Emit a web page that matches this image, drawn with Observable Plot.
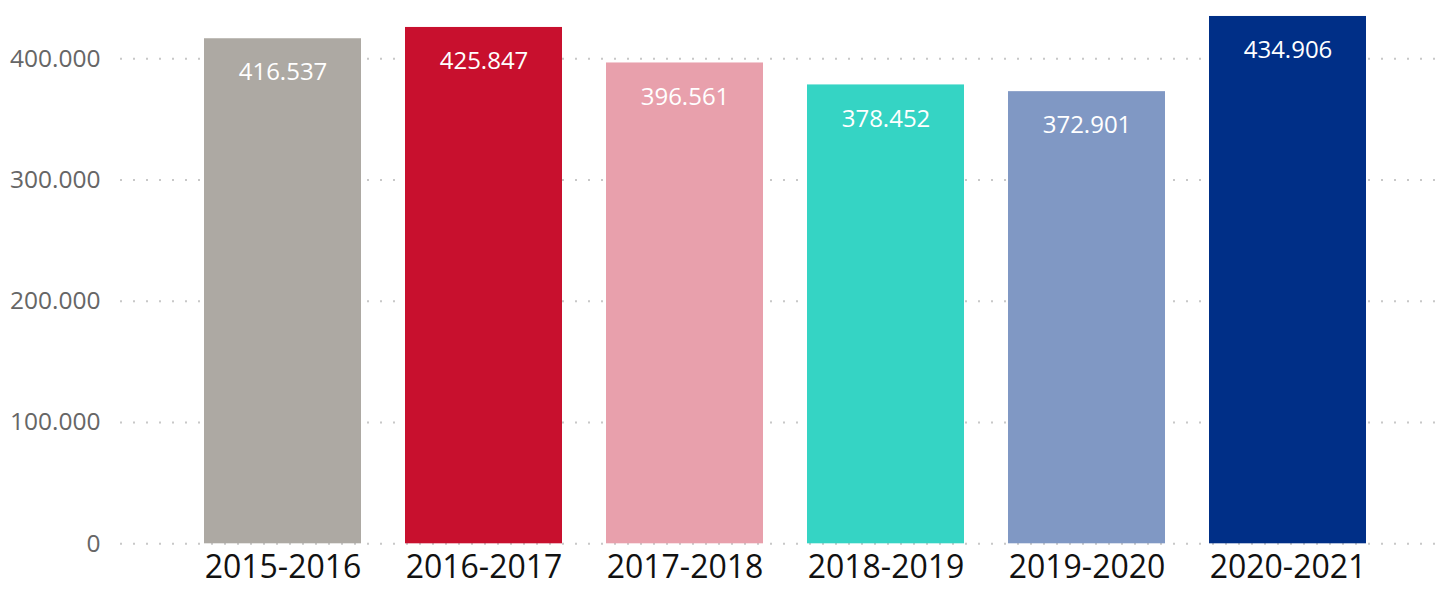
<!DOCTYPE html>
<html>
<head>
<meta charset="utf-8">
<script src="https://cdn.jsdelivr.net/npm/d3@7"></script>
<script src="https://cdn.jsdelivr.net/npm/@observablehq/plot@0.6"></script>
<style>
  html, body { margin: 0; padding: 0; background: #fff; }
  #chart svg { display: block; font-family: "Open Sans", "Noto Sans", sans-serif; }
</style>
</head>
<body>
<div id="chart"></div>
<script>
const years = ["2015-2016", "2016-2017", "2017-2018", "2018-2019", "2019-2020", "2020-2021"];
const values = [416537, 425847, 396561, 378452, 372901, 434906];
const colors = ["#ADA9A3", "#C8102E", "#E8A0AC", "#35D4C4", "#8098C4", "#002F87"];
const yTicks = [0, 100000, 200000, 300000, 400000];

const locale = d3.formatLocale({decimal: ",", thousands: ".", grouping: [3], currency: ["", " €"]});
const fmt = locale.format(",d");

const data = years.map((y, i) => ({year: y, value: values[i], color: colors[i]}));

const chart = Plot.plot({
  width: 1447,
  height: 589,
  marginLeft: 120,
  marginRight: 4,
  marginTop: 0,
  marginBottom: 46,
  style: {fontFamily: '"Open Sans", "Noto Sans", sans-serif', background: "#fff"},
  x: {domain: years, range: [201, 1368], paddingInner: 0.22, paddingOuter: 0, label: null},
  y: {domain: [0, 400000], range: [543.3, 58.3], label: null},
  marks: [
    Plot.ruleY(yTicks, {stroke: "#c8c8c8", strokeWidth: 2, strokeDasharray: "2,11"}),
    Plot.barY(data, {x: "year", y: "value", fill: "color"}),
    Plot.text(data, {x: "year", y: "value", text: d => fmt(d.value), fill: "#fff", fontSize: 24, dy: 34, lineAnchor: "middle"}),
    Plot.axisY(yTicks, {tickSize: 0, tickPadding: 20, fontSize: 24.5, fill: "#666", tickFormat: fmt, label: null}),
    Plot.axisX({tickSize: 0, tickPadding: 12, fontSize: 32, fill: "#111", label: null})
  ]
});
document.getElementById("chart").appendChild(chart);
</script>
</body>
</html>
